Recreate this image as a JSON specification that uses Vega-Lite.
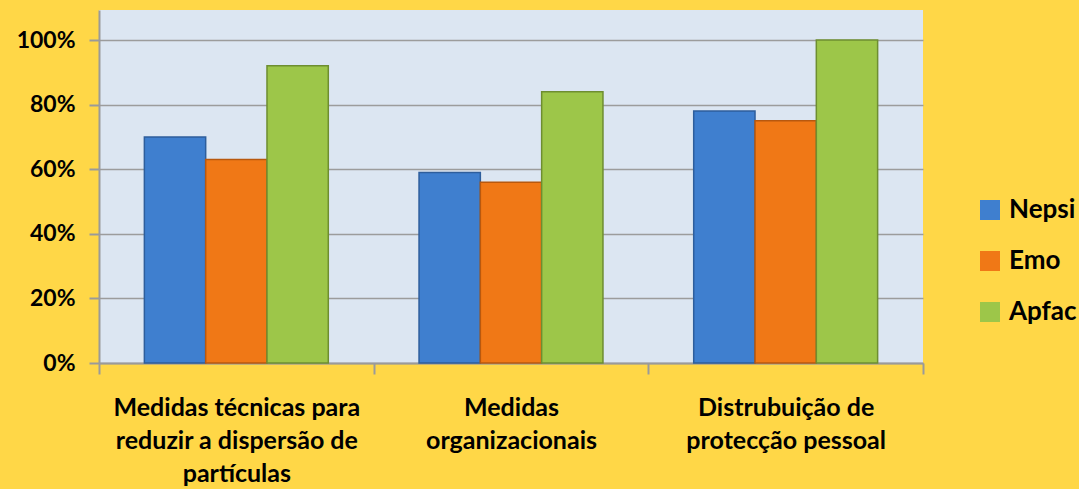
{
  "$schema": "https://vega.github.io/schema/vega-lite/v6.json",
  "autosize": {"type": "none"},
  "width": 824,
  "height": 353,
  "padding": {"left": 99, "top": 10, "right": 156, "bottom": 126},
  "background": "#FFD747",
  "config": {
    "view": {"fill": "#DCE6F2", "stroke": null},
    "font": "Lato"
  },
  "data": {
    "values": [
      {"category": "Medidas técnicas para|reduzir a dispersão de|partículas", "series": "Nepsi", "value": 0.70},
      {"category": "Medidas técnicas para|reduzir a dispersão de|partículas", "series": "Emo", "value": 0.63},
      {"category": "Medidas técnicas para|reduzir a dispersão de|partículas", "series": "Apfac", "value": 0.92},
      {"category": "Medidas|organizacionais", "series": "Nepsi", "value": 0.59},
      {"category": "Medidas|organizacionais", "series": "Emo", "value": 0.56},
      {"category": "Medidas|organizacionais", "series": "Apfac", "value": 0.84},
      {"category": "Distrubuição de|protecção pessoal", "series": "Nepsi", "value": 0.78},
      {"category": "Distrubuição de|protecção pessoal", "series": "Emo", "value": 0.75},
      {"category": "Distrubuição de|protecção pessoal", "series": "Apfac", "value": 1.0}
    ]
  },
  "mark": {"type": "bar", "strokeWidth": 1.5},
  "encoding": {
    "x": {
      "field": "category",
      "type": "nominal",
      "sort": null,
      "scale": {"paddingInner": 0, "paddingOuter": 0},
      "axis": {
        "title": null,
        "labelAngle": 0,
        "labelExpr": "split(datum.label, '|')",
        "labelFont": "Lato",
        "labelFontWeight": "bold",
        "labelFontSize": 25,
        "labelColor": "#000000",
        "labelLineHeight": 33,
        "labelPadding": 21,
        "labelLimit": 0,
        "tickBand": "extent",
        "tickSize": 11,
        "tickWidth": 2,
        "tickColor": "#9A9A9A",
        "domainColor": "#9A9A9A",
        "domainWidth": 2
      }
    },
    "xOffset": {
      "field": "series",
      "type": "nominal",
      "sort": ["Nepsi", "Emo", "Apfac"],
      "scale": {"paddingInner": 0, "paddingOuter": 0.74}
    },
    "y": {
      "field": "value",
      "type": "quantitative",
      "scale": {"domain": [0, 1.093], "nice": false},
      "axis": {
        "title": null,
        "values": [0, 0.2, 0.4, 0.6, 0.8, 1.0],
        "format": ".0%",
        "labelFont": "Lato",
        "labelFontWeight": "bold",
        "labelFontSize": 23,
        "labelColor": "#000000",
        "labelPadding": 14,
        "tickSize": 10,
        "tickWidth": 2,
        "tickColor": "#9A9A9A",
        "domainColor": "#9A9A9A",
        "domainWidth": 2,
        "grid": true,
        "gridColor": "#9C9C9C",
        "gridWidth": 1.5
      }
    },
    "color": {
      "field": "series",
      "type": "nominal",
      "sort": ["Nepsi", "Emo", "Apfac"],
      "scale": {"domain": ["Nepsi", "Emo", "Apfac"], "range": ["#3F7FCF", "#F07816", "#9DC649"]},
      "legend": {
        "title": null,
        "orient": "none",
        "legendX": 878,
        "legendY": 187,
        "symbolType": "square",
        "symbolSize": 400,
        "symbolStrokeWidth": 0,
        "labelFont": "Lato",
        "labelFontWeight": "bold",
        "labelFontSize": 26,
        "labelColor": "#000000",
        "labelOffset": 6,
        "rowPadding": 25
      }
    },
    "stroke": {
      "field": "series",
      "type": "nominal",
      "scale": {"domain": ["Nepsi", "Emo", "Apfac"], "range": ["#2E5E9C", "#B8580E", "#6E8E30"]},
      "legend": null
    }
  }
}
